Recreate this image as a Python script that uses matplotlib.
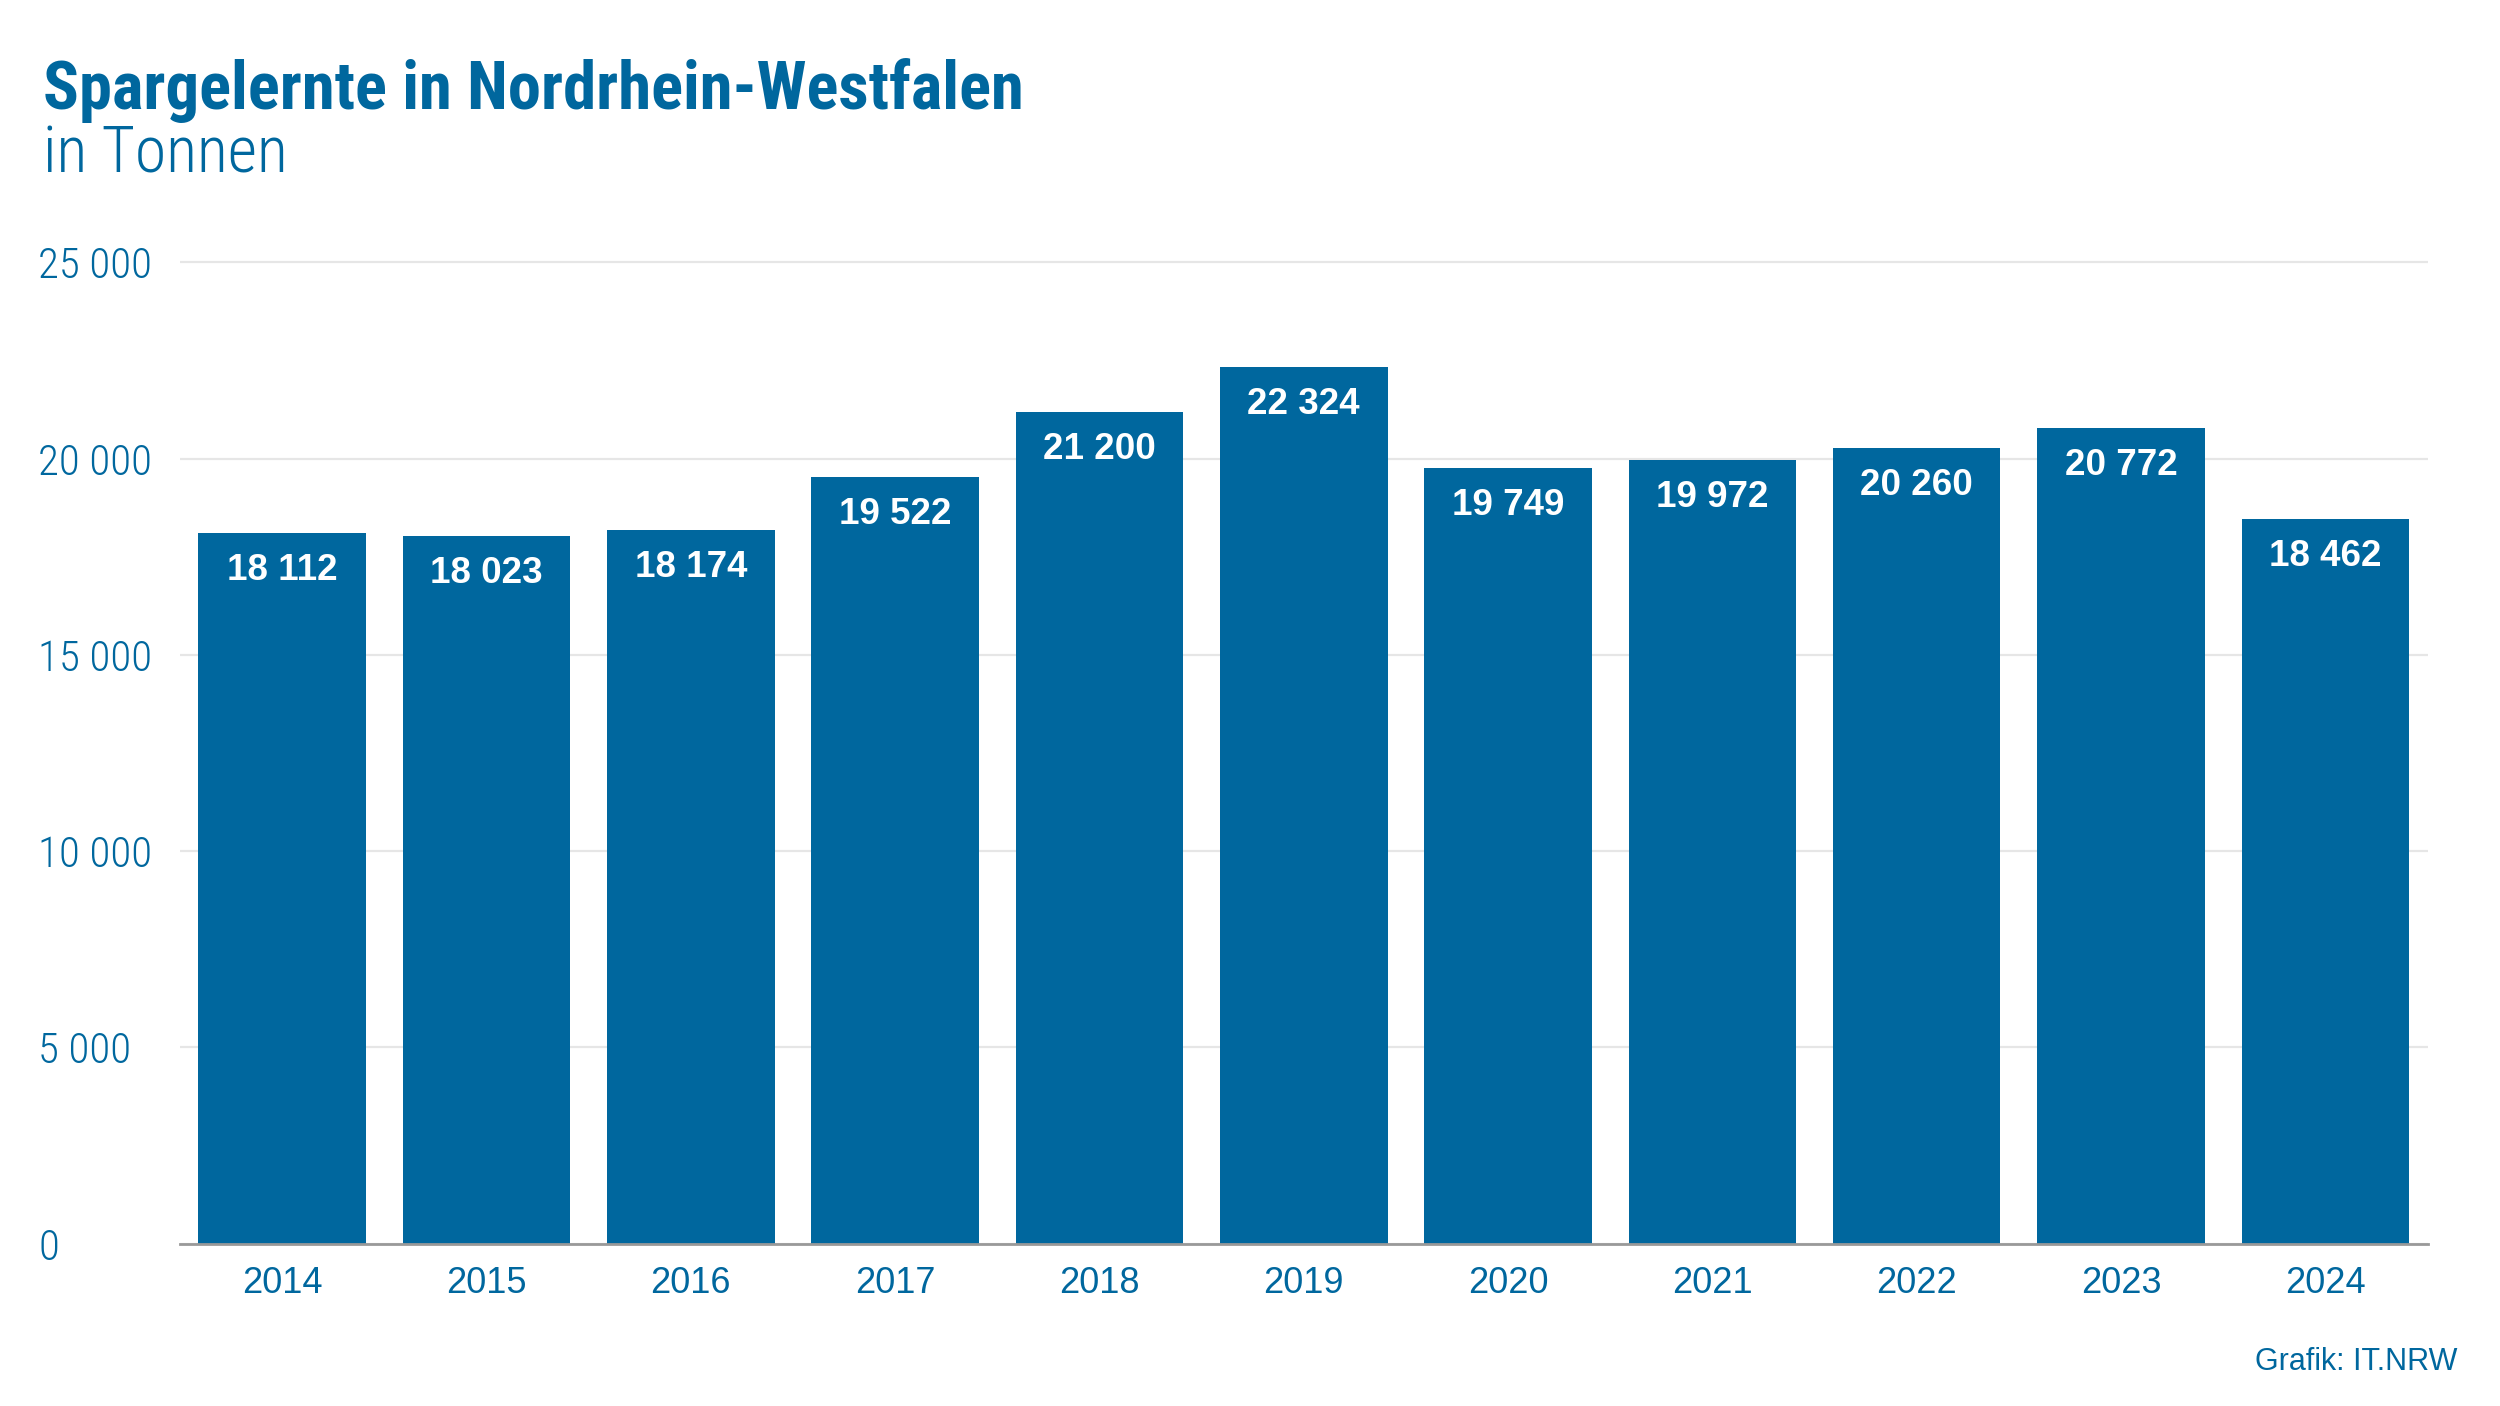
import matplotlib
matplotlib.use("Agg")
import matplotlib.pyplot as plt
from matplotlib import font_manager

# Data
years = ["2014", "2015", "2016", "2017", "2018", "2019",
         "2020", "2021", "2022", "2023", "2024"]
harvest_t = [18112, 18023, 18174, 19522, 21200, 22324,
             19749, 19972, 20260, 20772, 18462]
y_ticks = [0, 5000, 10000, 15000, 20000, 25000]

BLUE = "#00679e"

installed = {f.name for f in font_manager.fontManager.ttflist}
narrow = next((f for f in ["Roboto Condensed", "Liberation Sans Narrow", "Liberation Sans"]
               if f in installed), "DejaVu Sans")
plt.rcParams["font.family"] = [narrow, "DejaVu Sans"]


def fmt(v):
    return f"{v:,}".replace(",", " ")


AX_L, AX_B, AX_W, AX_H = 0.072, 0.1155, 0.899, 0.700

fig = plt.figure(figsize=(25, 14.06), dpi=100)
ax = fig.add_axes([AX_L, AX_B, AX_W, AX_H])

bars = ax.bar(range(len(years)), harvest_t, width=0.82, color=BLUE, zorder=3)

ax.set_xlim(-0.5, len(years) - 0.5)
ax.set_ylim(0, 25000 * 1.003)
ax.set_yticks(y_ticks)
ax.set_yticklabels([fmt(v) for v in y_ticks])
ax.set_xticks(range(len(years)))
ax.set_xticklabels(years, family=["Liberation Sans", "DejaVu Sans"])

ax.grid(axis="y", color="#e6e6e6", linewidth=1.6, zorder=0)
for s in ["top", "right", "left"]:
    ax.spines[s].set_visible(False)
ax.spines["bottom"].set_color("#999999")
ax.spines["bottom"].set_linewidth(2)
ax.spines["bottom"].set_zorder(4)

ax.tick_params(axis="both", length=0, colors=BLUE)
ax.tick_params(axis="x", labelsize=26, pad=16)
ax.tick_params(axis="y", labelsize=31)
for lbl in ax.get_yticklabels():
    lbl.set_horizontalalignment("left")
    lbl.set_fontweight("light")
    lbl.set_x(-(AX_L - 0.0172) / AX_W)

# Value labels inside the bars
for bar, v in zip(bars, harvest_t):
    ax.annotate(fmt(v), (bar.get_x() + bar.get_width() / 2, v),
                xytext=(0, -27), textcoords="offset points",
                ha="center", va="center", color="white",
                fontsize=26.5, fontweight="bold",
                family=["Liberation Sans", "DejaVu Sans"], zorder=5)

fig.text(0.0172, 0.9225, "Spargelernte in Nordrhein-Westfalen",
         fontsize=48, fontweight="bold", color=BLUE, va="baseline")
fig.text(0.0172, 0.877, "in Tonnen", fontsize=46, fontweight="light",
         color=BLUE, va="baseline")
fig.text(0.983, 0.0256, "Grafik: IT.NRW", fontsize=22, color=BLUE,
         ha="right", va="baseline", family=["Liberation Sans", "DejaVu Sans"])

fig.savefig("out.png", dpi=100)
